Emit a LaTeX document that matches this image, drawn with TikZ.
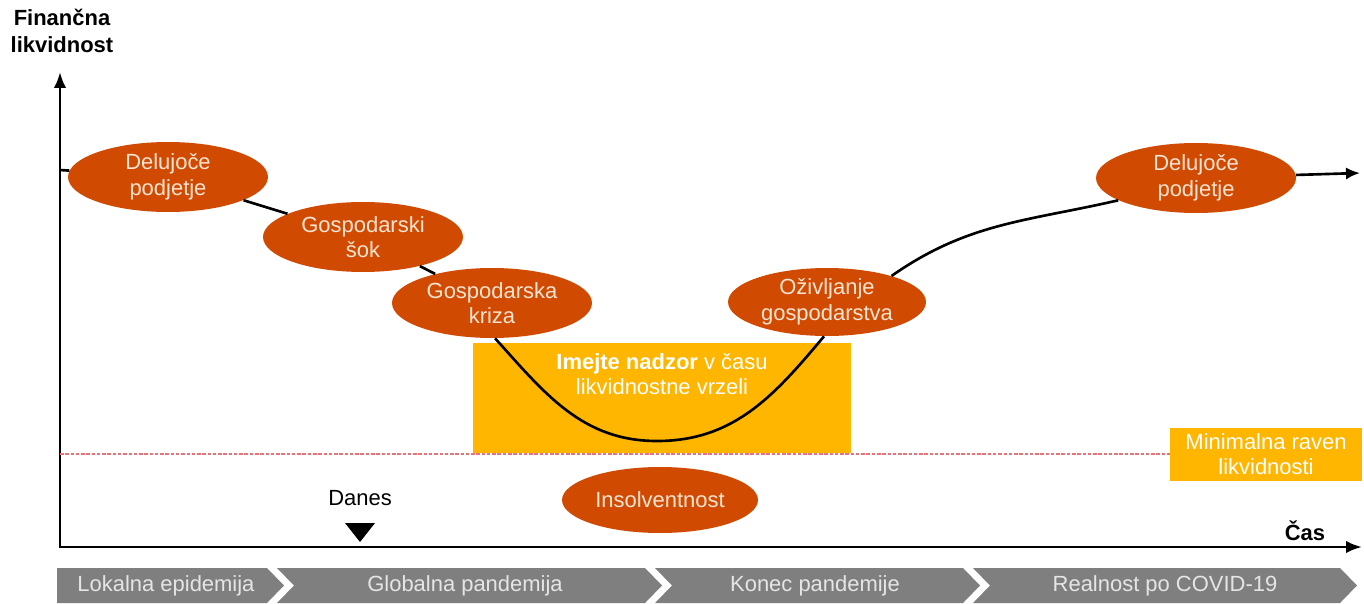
\documentclass[tikz,border=0pt]{standalone}
\usepackage{fontspec}
\setmainfont{Liberation Sans}
\usetikzlibrary{positioning,arrows.meta,shapes.geometric}
\definecolor{stageorange}{HTML}{D04A02}
\definecolor{gapyellow}{HTML}{FFB600}
\definecolor{stagetext}{HTML}{FDE5D3}
\definecolor{phasegray}{HTML}{7F7F7F}
\definecolor{minred}{HTML}{E8727A}

\begin{document}
\begin{tikzpicture}[
  x=0.02cm,y=0.02cm,
  font=\fontsize{12.5}{14.5}\selectfont,
  axis/.style={line width=1.6pt,{Latex[length=9pt,width=7pt]}-{Latex[length=9pt,width=7pt]}},
  axislabel/.style={font=\fontsize{12.5}{15}\selectfont\bfseries,align=center},
  stage/.style={ellipse,fill=stageorange,text=stagetext,align=center,minimum width=4cm,minimum height=1.4cm,inner sep=0pt},
  link/.style={line width=1.5pt,black},
  gapbox/.style={fill=gapyellow,minimum width=7.58cm,minimum height=2.22cm,inner sep=0pt},
  gaptext/.style={text=white,align=center},
  minbox/.style={fill=gapyellow,text=white,align=center,minimum width=3.84cm,minimum height=1.06cm,inner sep=0pt},
  minline/.style={minred,line width=0.7pt,dash pattern=on 2pt off 1pt},
  phase/.style={fill=phasegray},
  phasetext/.style={text=white!90!black}
]
\useasboundingbox (0,0) rectangle (1364,603);
\node[axislabel] (ylab) at (62,572) {Finančna\\likvidnost};
\coordinate (ytop) at (60,531);
\coordinate (o) at (60,56);
\coordinate (xend) at (1362,56);
\draw[axis] (ytop) -- (o) -- (xend);
\node[gapbox] (gap) at (662,205) {};
\node[gaptext,below=0.1cm of gap.north] (gapt) {\textbf{Imejte nadzor} v času\\likvidnostne vrzeli};
\coordinate (lvl) at (60,149);
\node[minbox] (minb) at (1266,149) {Minimalna raven\\likvidnosti};
\draw[minline] (lvl) -- (minb);
\node[stage] (s1) at (168,426) {Delujoče\\podjetje};
\node[stage] (s2) at (363,366) {Gospodarski\\šok};
\node[stage] (s3) at (492,300) {Gospodarska\\kriza};
\node[stage,minimum width=3.96cm,minimum height=1.36cm] (s4) at (827,301) {Oživljanje\\gospodarstva};
\node[stage] (s5) at (1196,425) {Delujoče\\podjetje};
\node[stage,minimum width=3.92cm,minimum height=1.32cm] (ins) at (660,103) {Insolventnost};
\coordinate (cin) at (60,433);
\coordinate (vmin) at (657,162);
\coordinate (tend) at (1360,430);
\draw[link] (cin) -- (s1) -- (s2) -- (s3);
\draw[link] (s3.-85) to[out=-48,in=180] (vmin) to[out=0,in=-130] (s4.-95);
\draw[link] (s4.22) to[out=35,in=193] (s5.196);
\draw[link,-{Latex[length=8pt,width=7pt]}] (s5) -- (tend);
\node (danes) at (360,105) {Danes};
\fill (345,80) -- (375,80) -- (360,61) -- cycle;
\node[axislabel] (cas) at (1305,72) {Čas};
\fill[phase] (57,0) -- (267,0) -- (284,17.5) -- (267,35) -- (57,35) -- cycle;
\fill[phase] (277,0) -- (645,0) -- (662,17.5) -- (645,35) -- (277,35) -- (294,17.5) -- cycle;
\fill[phase] (655,0) -- (963,0) -- (980,17.5) -- (963,35) -- (655,35) -- (672,17.5) -- cycle;
\fill[phase] (973,0) -- (1340,0) -- (1357,17.5) -- (1340,35) -- (973,35) -- (990,17.5) -- cycle;
\node[phasetext] (ph1) at (166,17.5) {Lokalna epidemija};
\node[phasetext] (ph2) at (465,17.5) {Globalna pandemija};
\node[phasetext] (ph3) at (815,17.5) {Konec pandemije};
\node[phasetext] (ph4) at (1165,17.5) {Realnost po COVID-19};
\end{tikzpicture}
\end{document}
